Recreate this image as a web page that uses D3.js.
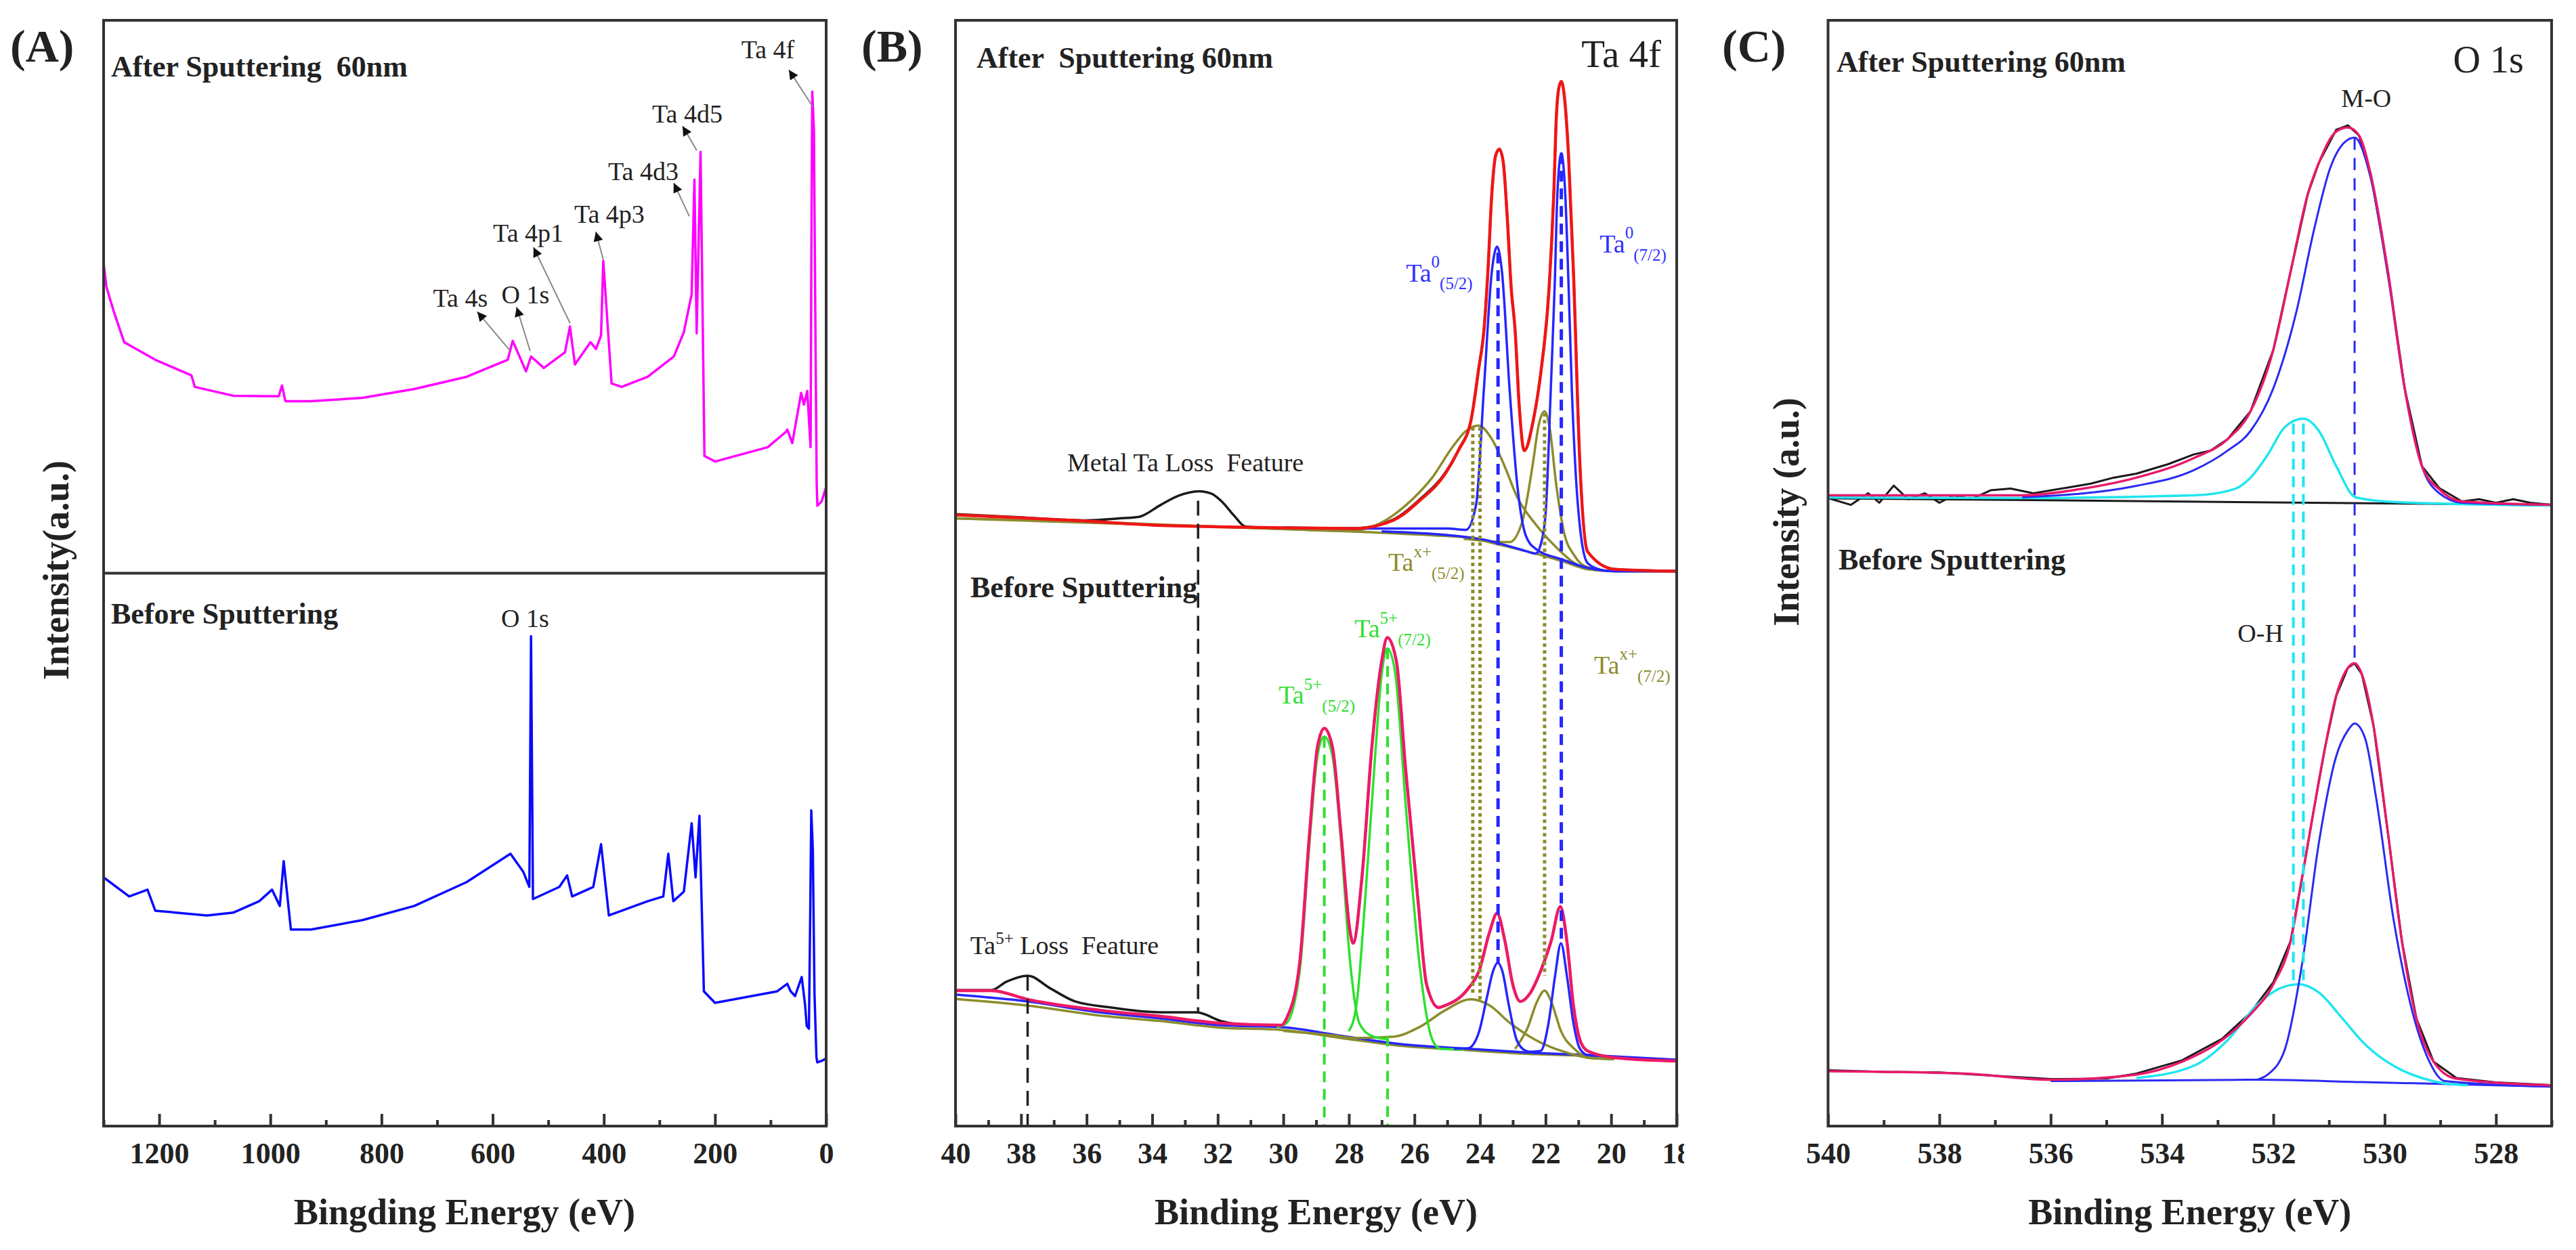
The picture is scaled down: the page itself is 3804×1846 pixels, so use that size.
<!DOCTYPE html>
<html>
<head>
<meta charset="utf-8">
<script src="https://cdn.jsdelivr.net/npm/d3@7"></script>
<style>
  body { margin: 0; background: #fff; }
  text { font-family: "Liberation Serif", "Times New Roman", serif; }
</style>
</head>
<body>
<div id="chart"></div>
<script>
// ---------- data (binding energy eV, intensity a.u.) ----------

// (A) survey spectra
var surveyAfter = [
  [1300, 780.6], [1295, 759.1], [1282, 737.1], [1263, 708.9], [1207, 693], [1142, 678.9], [1136, 668.5],
  [1067, 660.5], [985, 660], [979, 669.7], [973, 655.6], [927, 655.6], [834, 658.6], [741, 666.6],
  [647, 677.6], [573, 693], [564, 710.1], [540, 682.5], [531, 696], [508, 685.6], [470, 699.7],
  [461, 723], [452, 688.7], [424, 708.9], [414, 702.8], [405, 715], [401, 782.4], [386, 671.5],
  [368, 668.5], [321, 677.6], [274, 696], [256, 718], [242, 752.4], [237, 856], [233, 716.9],
  [226, 881], [219, 606], [200, 601], [105, 614], [72, 628], [70, 630], [61, 617.6], [45, 663],
  [40, 652.5], [34, 664.8], [28, 614], [26.5, 800], [25, 935.6], [22, 900], [19, 700], [17, 580],
  [15.8, 561], [8, 565], [0, 578]
];
var surveyBefore = [
  [1300, 224.9], [1254, 207.7], [1221, 213.8], [1207, 194.8], [1114, 190.5], [1067, 193], [1020, 203.4],
  [997, 213.8], [983, 199.1], [976, 239.6], [963, 177.7], [927, 177.7], [834, 186.3], [741, 199.1],
  [647, 220.6], [568, 246.3], [545, 230], [534, 216.3], [531, 443], [527.5, 205.3], [480, 216.3],
  [466, 226.7], [457, 207.7], [419, 216.3], [405, 254.9], [391, 190.5], [321, 203.4], [293, 207.7],
  [284, 246.3], [275, 203.4], [256, 212], [242, 273.9], [235, 224.9], [228, 280.6], [220, 121.9],
  [200, 111.5], [88, 121.9], [70, 128.7], [64, 122], [56, 117.6], [44, 134.8], [38, 110], [35, 90.7],
  [31, 88], [28.5, 200], [26.8, 285.5], [24, 250], [21, 120], [17.5, 62], [15.8, 57.6], [8, 59], [0, 61.3]
];
// peak labels: label centre, arrow tip, arrow tail
var surveyPeaksAfter = [
  { name: "Ta 4s",  e: 658,   v: 748.7, tipE: 627.7, tipV: 736.5, tailE: 569.2, tailV: 701.5 },
  { name: "O 1s",   e: 541,   v: 751.8, tipE: 557,   tipV: 740.7, tailE: 532.6, tailV: 700.9 },
  { name: "Ta 4p1", e: 536,   v: 807.5, tipE: 526.5, tipV: 794.7, tailE: 460.7, tailV: 726 },
  { name: "Ta 4p3", e: 390,   v: 824.7, tipE: 414.4, tipV: 808.8, tailE: 401,   tailV: 783.6 },
  { name: "Ta 4d3", e: 329,   v: 863.3, tipE: 274.2, tipV: 852.9, tailE: 246.2, tailV: 822.8 },
  { name: "Ta 4d5", e: 249.8, v: 915.4, tipE: 258.4, tipV: 904.3, tailE: 232.8, tailV: 882.3 },
  { name: "Ta 4f",  e: 104.8, v: 973.6, tipE: 67,    tipV: 955.2, tailE: 24.4,  tailV: 922.1 }
];
var surveyPeaksBefore = [{ name: "O 1s", e: 541.8, v: 459.5 }];
var ticksA = [1200, 1000, 800, 600, 400, 200, 0];

// (B) Ta 4f, after sputtering
var taAfterRaw = [
  [40, 553.5], [38, 550.5], [36, 547.8], [35, 549.6], [34.4, 551], [33.74, 561.8], [33.2, 570], [32.58, 574.1],
  [32.2, 572], [31.88, 564.9], [31.5, 552], [31.16, 542.2], [30.2, 540.6], [28.5, 540.8], [27.83, 540.6],
  [26.65, 548.5], [25.85, 566.5], [25.06, 591], [24.66, 611.5], [24.27, 639], [24.04, 685], [23.88, 719.9],
  [23.76, 772.6], [23.64, 843], [23.52, 878], [23.41, 883.5], [23.29, 871.3], [23.17, 822.2], [23.05, 758.5],
  [22.93, 719.9], [22.8, 649.5], [22.65, 610.9], [22.37, 639], [22.13, 685], [21.9, 754.8], [21.75, 843],
  [21.67, 913.5], [21.6, 938], [21.52, 944.8], [21.44, 934.4], [21.3, 878], [21.15, 772.6], [20.95, 596.8],
  [20.72, 519.6], [19.9, 503.6], [18, 501.8]
];
var taAfterEnv = [
  [40, 552.7], [38, 550], [36, 547.1], [34, 543.5], [32, 542], [30, 541], [28.5, 540.6], [27.83, 540.4],
  [26.65, 547.8], [25.85, 565.5], [25.06, 590], [24.66, 610.9], [24.27, 639], [24.04, 685], [23.88, 719.9],
  [23.76, 772.6], [23.64, 843], [23.52, 878], [23.41, 883.5], [23.29, 871.3], [23.17, 822.2], [23.05, 758.5],
  [22.93, 719.9], [22.8, 649.5], [22.65, 610.9], [22.37, 639], [22.13, 685], [21.9, 754.8], [21.75, 843],
  [21.67, 913.5], [21.6, 938], [21.52, 944.8], [21.44, 934.4], [21.3, 878], [21.15, 772.6], [20.95, 596.8],
  [20.72, 519.6], [19.9, 503.6], [18, 501.8]
];
var taAfterBg = [
  [40, 549.6], [36, 546.5], [33.7, 544], [30, 540], [27.6, 537.3], [25.46, 534.3], [24.27, 531.8],
  [23.48, 526.3], [22.3, 517.7], [21.5, 511], [20.72, 503.6], [19.9, 501.8], [18, 501.8]
];
var ta0_52After = [
  [30, 541.5], [27.8, 540.4], [25, 540.4], [24.43, 539.2], [24.12, 561.8], [23.88, 667.2], [23.64, 772.6],
  [23.48, 795.3], [23.33, 772.6], [23.1, 667.2], [22.86, 579], [22.6, 533.7], [22.3, 522], [21.5, 512.5],
  [20.72, 504.8], [19.9, 501.8], [18, 501.8]
];
var ta0_72After = [
  [27, 537.8], [24, 531], [22.6, 520], [22.3, 517.7], [22.15, 525.7], [22.0, 553.3], [21.84, 667.2],
  [21.72, 761.6], [21.64, 843], [21.52, 879.8], [21.4, 843], [21.3, 761.6], [21.2, 667.2], [21.08, 590],
  [20.96, 544.1], [20.72, 509.2], [20.3, 503], [19.9, 501.8], [18, 501.8]
];
var taX_52After = [
  [40, 549.6], [30, 540], [28.5, 538.5], [27.83, 538.6], [27.0, 545.9], [26.25, 561.8], [25.46, 586.4],
  [24.83, 614.5], [24.43, 628.6], [24.04, 633.5], [23.64, 621.3], [23.25, 596.8], [22.86, 568.6],
  [22.3, 544.1], [21.67, 523.3], [21.12, 509.2], [20.72, 503.6], [19.9, 501.8], [18, 501.8]
];
var taX_72After = [
  [24.5, 531], [23.1, 528.1], [22.7, 547.8], [22.4, 596.8], [22.2, 635.4], [22.03, 646.4], [21.88, 632.3],
  [21.67, 579], [21.44, 537.3], [21.12, 515.9], [20.72, 505.4], [19.9, 501.8], [18, 501.8]
];

// (B) Ta 4f, before sputtering
var taBeforeRaw = [
  [40, 123], [38.9, 123], [38.45, 130.5], [37.8, 136], [37.1, 124.4], [36.35, 112.7], [35.25, 107.2],
  [33.75, 102.9], [32.65, 102.9], [31.9, 95], [30.98, 91.3], [30.06, 91.3], [29.9, 97.4], [29.5, 147.7],
  [29.2, 264.7], [28.96, 342.5], [28.75, 359.7], [28.5, 342.5], [28.24, 264.7], [27.96, 175.2], [27.87, 165.4],
  [27.6, 225.5], [27.3, 342.5], [27.0, 420.3], [26.83, 441.8], [26.55, 420.3], [26.27, 322.9], [25.9, 206.5],
  [25.63, 128.1], [25.26, 107.2], [25.06, 109.1], [24.36, 124.4], [24.03, 140.3], [23.71, 175.2],
  [23.48, 192.4], [23.24, 167.3], [23.0, 128.1], [22.77, 112.7], [22.46, 120.7], [22.15, 140.3],
  [21.83, 167.3], [21.55, 198.5], [21.35, 167.3], [21.15, 109.1], [20.95, 77.8], [20.72, 68], [19.9, 61.9], [18, 58.8]
];
var taBeforeEnv = [
  [40, 122.5], [38.9, 122.5], [37.8, 114.6], [35.6, 104.8], [33.75, 99.3], [31.9, 93.1], [30.06, 91.3],
  [29.9, 97.4], [29.5, 147.7], [29.2, 264.7], [28.96, 342.5], [28.75, 359.7], [28.5, 342.5], [28.24, 264.7],
  [27.96, 175.2], [27.87, 165.4], [27.6, 225.5], [27.3, 342.5], [27.0, 420.3], [26.83, 441.8], [26.55, 420.3],
  [26.27, 322.9], [25.9, 206.5], [25.63, 128.1], [25.26, 107.2], [25.06, 109.1], [24.36, 124.4], [24.03, 140.3],
  [23.71, 175.2], [23.48, 192.4], [23.24, 167.3], [23.0, 128.1], [22.77, 112.7], [22.46, 120.7], [22.15, 140.3],
  [21.83, 167.3], [21.55, 198.5], [21.35, 167.3], [21.15, 109.1], [20.95, 77.8], [20.72, 68], [19.9, 61.9], [18, 58.8]
];
var taBeforeBg = [
  [40, 118.9], [37.8, 112.7], [35.6, 102.9], [33.75, 97.4], [31.9, 91.3], [30.06, 89.5], [28.2, 81.5],
  [26.4, 74.1], [24.28, 69.8], [22.3, 66.2], [20.72, 64.3], [18, 60]
];
var taBeforeBg2 = [
  [40, 115], [37.8, 109], [35.6, 100], [33.75, 95], [31.9, 89], [30.06, 87], [28.2, 79.5],
  [26.4, 72.5], [24.28, 68.5], [22.3, 65], [20.72, 63.5], [18, 59.5]
];
var ta5_52Before = [
  [30.2, 89.5], [29.9, 93.1], [29.5, 140.3], [29.2, 256.7], [28.96, 334.5], [28.75, 352.3], [28.5, 334.5],
  [28.24, 256.7], [27.96, 147.7], [27.68, 93.1], [27.3, 81.5], [26.8, 78.4]
];
var ta5_72Before = [
  [28.0, 85.8], [27.77, 109.1], [27.5, 206.5], [27.2, 334.5], [27.0, 408.7], [26.83, 432], [26.6, 412.3],
  [26.25, 284.3], [25.85, 147.7], [25.45, 77.8], [25.2, 69.8], [24.5, 69.2]
];
var ta0_52Before = [
  [24.8, 70], [24.36, 70.5], [24.03, 85.2], [23.79, 116.4], [23.6, 140.3], [23.46, 147.7], [23.32, 140.3],
  [23.12, 109.1], [22.88, 77.8], [22.6, 68], [22.3, 66.2]
];
var ta0_72Before = [
  [22.6, 67], [22.15, 68], [21.91, 93.1], [21.71, 136], [21.53, 165.4], [21.35, 136], [21.15, 93.1],
  [20.95, 69.8], [20.72, 64.3], [20, 63]
];
var taX_52Before = [
  [30, 86], [28.5, 82], [27.83, 79.7], [26.65, 80.9], [25.85, 89.5], [25.06, 104.8], [24.28, 114.6],
  [23.71, 109.1], [23.08, 93.1], [22.3, 77.8], [21.52, 68], [20.72, 61.9], [19.9, 60.5]
];
var taX_72Before = [
  [22.93, 69.8], [22.54, 89.5], [22.26, 112.7], [22.03, 122.5], [21.83, 112.7], [21.52, 85.2],
  [21.12, 69.8], [20.72, 61.9], [20, 60.5]
];
// vertical guides: [energy, from, to]
var lossLinesB = [[32.6, 565.5, 102.9], [37.8, 136, 0]];
var ta5LinesB = [[28.75, 352, 0], [26.82, 432, 0]];
var ta0LinesB = [[23.45, 790, 147.7], [21.52, 879.8, 165.4]];
var taXLinesB = [[24.22, 632, 120.7], [24.0, 632, 114], [22.03, 644.6, 136]];
var ta0LabelsB = [{ sup: "0", sub: "(5/2)", e: 26.26, v: 772 }, { sup: "0", sub: "(7/2)", e: 20.35, v: 798 }];
var taXLabelsB = [{ sup: "x+", sub: "(5/2)", e: 26.8, v: 510 }, { sup: "x+", sub: "(7/2)", e: 20.52, v: 417 }];
var ta5LabelsB = [{ sup: "5+", sub: "(5/2)", e: 30.14, v: 390 }, { sup: "5+", sub: "(7/2)", e: 27.83, v: 450 }];
var ticksB = [40, 38, 36, 34, 32, 30, 28, 26, 24, 22, 20, 18];

// (C) O 1s
var oAfterRaw = [
  [540, 568], [539.59, 561.8], [539.28, 572.3], [539.08, 563.7], [538.82, 579.2], [538.56, 566.9],
  [538.26, 572.3], [538.0, 563.7], [537.74, 570.4], [537.43, 566.9], [537.08, 575], [536.72, 576.6],
  [536.31, 572.3], [535.69, 577.5], [535.28, 581], [534.87, 586.4], [534.46, 590], [533.89, 598.6],
  [533.43, 607.4], [533.13, 610.9], [532.82, 621.3], [532.41, 646.4], [532.0, 702.1], [531.69, 772.6],
  [531.38, 843], [531.18, 871.3], [530.87, 901], [530.66, 905], [530.46, 895.8], [530.25, 860.8],
  [529.94, 772.6], [529.64, 667.2], [529.33, 596.8], [529.02, 577], [528.61, 564.9], [528.3, 566.9],
  [528.0, 563.7], [527.69, 566.9], [527.38, 563.7], [527, 561.8]
];
var oAfterEnv = [
  [540, 570.4], [536.51, 570.4], [535.49, 575.9], [534.46, 586.4], [533.43, 604.1], [532.82, 621.3],
  [532.41, 646.4], [532.0, 702.1], [531.69, 772.6], [531.38, 843], [531.18, 871.3], [530.87, 899.4],
  [530.66, 903.1], [530.46, 895.8], [530.25, 860.8], [529.94, 772.6], [529.64, 667.2], [529.33, 596.8],
  [529.02, 575.9], [528.61, 564.9], [527, 561.8]
];
var oAfterBg = [[540, 567.7], [527, 561.8]];
var moAfter = [
  [536.51, 568.6], [534.46, 579], [533.43, 593.1], [532.82, 610.9], [532.41, 628.6], [532.0, 667.2],
  [531.58, 737.7], [531.28, 808.1], [530.97, 867.6], [530.71, 890.2], [530.54, 893.9], [530.25, 857.2],
  [529.94, 768.9], [529.64, 667.2], [529.33, 596.8], [529.02, 572.3], [528.61, 563.7], [527, 561.8]
];
var ohAfter = [
  [540, 568.5], [536.51, 568], [533.43, 570.4], [532.71, 575.9], [532.41, 586.4], [532.1, 607.2],
  [531.79, 632.3], [531.46, 639.7], [531.18, 628.6], [530.87, 596.8], [530.52, 568.6], [529.8, 564.3], [527, 561.2]
];
var oBeforeRaw = [
  [540, 50.5], [539, 49], [538, 48.5], [537, 45.5], [536, 42.5], [535, 43], [534.46, 47.5], [533.64, 59.5],
  [532.92, 79], [532.41, 102.5], [532.0, 130], [531.69, 167.3], [531.48, 225.7], [531.28, 284], [531.07, 342.5],
  [530.87, 389.1], [530.66, 414.4], [530.54, 418.5], [530.41, 408.7], [530.2, 362.1], [529.94, 264.7],
  [529.69, 167.3], [529.43, 97.4], [529.12, 58.2], [528.71, 43.5], [528, 39.5], [527, 37]
];
var oBeforeEnv = [
  [540, 49.6], [537.54, 47.4], [536, 41.9], [534.46, 46.6], [533.64, 58.2], [532.92, 77.8], [532.41, 101.1],
  [532.0, 128.3], [531.69, 167.3], [531.48, 225.7], [531.28, 284], [531.07, 342.5], [530.87, 389.1],
  [530.66, 414.4], [530.54, 418.5], [530.41, 408.7], [530.2, 362.1], [529.94, 264.7], [529.69, 167.3],
  [529.43, 97.4], [529.12, 58.2], [528.71, 42.9], [527, 36.8]
];
var oBeforeBg = [[536, 40.7], [532.3, 41.9], [530.4, 39.8], [527, 35.7]];
var moBefore = [
  [532.3, 41.9], [532.1, 46.6], [531.79, 69.8], [531.48, 147.7], [531.18, 256.7], [530.87, 334.5],
  [530.66, 357.8], [530.54, 364], [530.35, 350.5], [530.15, 296], [529.84, 186.9], [529.53, 109.1],
  [529.23, 62.1], [528.92, 40.7], [527, 35.7]
];
var ohBefore = [
  [534.46, 43.5], [533.43, 54.5], [532.82, 77.8], [532.3, 109.1], [531.89, 124.4], [531.54, 128.3],
  [531.18, 120.7], [530.76, 97.4], [530.35, 73.8], [529.84, 54.5], [529.33, 43.5], [528.92, 38.6], [528.5, 37]
];
var moLinesC = [[530.54, 893.9, 418.5]];
var ohLinesC = [[531.64, 635.4, 128.3], [531.46, 635.4, 128.3]];
var ticksC = [540, 538, 536, 534, 532, 530, 528];

// ---------- layout ----------
var svgWidth = 3804, svgHeight = 1846;
var plotTop = 30, plotBottom = 1663;
var axisColor = "#333";

var svg = d3.select("#chart").append("svg")
  .attr("width", svgWidth)
  .attr("height", svgHeight)
  .style("background", "#fff");

svg.append("rect").attr("width", svgWidth).attr("height", svgHeight).attr("fill", "#fff");

function makePanel(x0, x1, domain, majors, minorStep) {
  var x = d3.scaleLinear().domain(domain).range([x0, x1]);
  var y = d3.scaleLinear().domain([0, 1000]).range([plotBottom, plotTop]);
  var lo = Math.min(domain[0], domain[1]), hi = Math.max(domain[0], domain[1]);
  var minors = d3.range(Math.ceil(lo / minorStep) * minorStep, hi + 1e-9, minorStep)
    .filter(function(d) { return majors.indexOf(d) < 0; });

  var gMinor = svg.append("g").attr("transform", "translate(0," + plotBottom + ")")
    .call(d3.axisBottom(x).tickValues(minors).tickSize(-9).tickFormat(""));
  var gMajor = svg.append("g").attr("transform", "translate(0," + plotBottom + ")")
    .call(d3.axisBottom(x).tickValues(majors).tickSize(-18).tickPadding(24).tickFormat(d3.format("d")));

  [gMinor, gMajor].forEach(function(g) {
    g.select(".domain").remove();
    g.selectAll(".tick line").attr("stroke", axisColor).attr("stroke-width", 4);
  });
  gMajor.selectAll(".tick text")
    .attr("fill", "#222")
    .style("font-family", "'Liberation Serif', serif")
    .style("font-weight", "bold")
    .style("font-size", "44px");
  return { x: x, y: y, x0: x0, x1: x1 };
}

function frame(p) {
  svg.append("rect")
    .attr("x", p.x0).attr("y", plotTop)
    .attr("width", p.x1 - p.x0).attr("height", plotBottom - plotTop)
    .attr("fill", "none").attr("stroke", axisColor).attr("stroke-width", 4);
}

function curve(p, data, color, width, smooth) {
  svg.append("path").datum(data)
    .attr("fill", "none")
    .attr("stroke", color)
    .attr("stroke-width", width)
    .attr("stroke-linejoin", "round")
    .attr("d", d3.line()
      .x(function(d) { return p.x(d[0]); })
      .y(function(d) { return p.y(d[1]); })
      .curve(smooth ? d3.curveMonotoneX : d3.curveLinear));
}

function guides(p, lines, color, width, dash) {
  svg.selectAll(null).data(lines).enter().append("line")
    .attr("x1", function(d) { return p.x(d[0]); })
    .attr("x2", function(d) { return p.x(d[0]); })
    .attr("y1", function(d) { return p.y(d[1]); })
    .attr("y2", function(d) { return p.y(d[2]); })
    .attr("stroke", color)
    .attr("stroke-width", width)
    .attr("stroke-dasharray", dash);
}

function text(x, y, str, size, opts) {
  opts = opts || {};
  return svg.append("text")
    .attr("x", x).attr("y", y)
    .attr("fill", opts.color || "#222")
    .attr("text-anchor", opts.anchor || "start")
    .style("font-size", size + "px")
    .style("font-weight", opts.bold ? "bold" : "normal")
    .style("white-space", "pre")
    .text(str);
}

// "Ta" with superscript and subscript, y = visual centre of "Ta"
function taLabel(p, d, color) {
  var size = 38, small = 25;
  var t = svg.append("text")
    .attr("x", p.x(d.e)).attr("y", p.y(d.v) + 0.35 * size)
    .attr("fill", color)
    .style("font-size", size + "px");
  t.append("tspan").text("Ta");
  t.append("tspan").attr("dy", -0.55 * size).style("font-size", small + "px").text(d.sup);
  t.append("tspan").attr("dy", 0.85 * size).style("font-size", small + "px").text(d.sub);
}

// ---------- (A) survey ----------
var pA = makePanel(153, 1220, [1300, 0], ticksA, 100);
curve(pA, surveyAfter, "#ff00ff", 3.5, false);
curve(pA, surveyBefore, "#0a0aff", 3.5, false);

svg.append("defs").append("marker")
  .attr("id", "arrowHead")
  .attr("viewBox", "0 0 10 10")
  .attr("refX", 10).attr("refY", 5)
  .attr("markerUnits", "userSpaceOnUse")
  .attr("markerWidth", 28).attr("markerHeight", 14)
  .attr("orient", "auto")
  .append("path").attr("d", "M0,0 L10,5 L0,10 z").attr("fill", "#111");

svg.selectAll(null).data(surveyPeaksAfter).enter().append("line")
  .attr("x1", function(d) { return pA.x(d.tailE); })
  .attr("y1", function(d) { return pA.y(d.tailV); })
  .attr("x2", function(d) { return pA.x(d.tipE); })
  .attr("y2", function(d) { return pA.y(d.tipV); })
  .attr("stroke", "#8a8a8a").attr("stroke-width", 2)
  .attr("marker-end", "url(#arrowHead)");

surveyPeaksAfter.concat(surveyPeaksBefore).forEach(function(d) {
  text(pA.x(d.e), pA.y(d.v) + 13, d.name, 38, { anchor: "middle" });
});

frame(pA);
svg.append("line")
  .attr("x1", pA.x0).attr("x2", pA.x1)
  .attr("y1", pA.y(500)).attr("y2", pA.y(500))
  .attr("stroke", axisColor).attr("stroke-width", 4);

text(164, 113, "After Sputtering  60nm", 44, { bold: true });
text(164, 921, "Before Sputtering", 44, { bold: true });
text(15, 91, "(A)", 68, { bold: true });
text(686, 1808, "Bingding Energy (eV)", 54, { bold: true, anchor: "middle" });
text(0, 0, "Intensity(a.u.)", 54, { bold: true, anchor: "middle" })
  .attr("transform", "translate(101,842) rotate(-90)");

// ---------- (B) Ta 4f ----------
var pB = makePanel(1411, 2476, [40, 18], ticksB, 1);

var olive = "#8c8c2c", green = "#2ee02e", blueB = "#2626ff";
// after sputtering
curve(pB, taAfterRaw, "#1a1a1a", 3.5, true);
curve(pB, taAfterBg, olive, 3.5, true);
curve(pB, taX_52After, olive, 3.5, true);
curve(pB, taX_72After, olive, 3.5, true);
curve(pB, ta0_52After, blueB, 3.5, true);
curve(pB, ta0_72After, blueB, 3.5, true);
curve(pB, taAfterEnv, "#f01616", 4.5, true);
// before sputtering
curve(pB, taBeforeRaw, "#1a1a1a", 3.5, true);
curve(pB, taBeforeBg2, olive, 3.5, true);
curve(pB, taBeforeBg, blueB, 3.5, true);
curve(pB, taX_52Before, olive, 3.5, true);
curve(pB, taX_72Before, olive, 3.5, true);
curve(pB, ta5_52Before, green, 3.5, true);
curve(pB, ta5_72Before, green, 3.5, true);
curve(pB, ta0_52Before, blueB, 3.5, true);
curve(pB, ta0_72Before, blueB, 3.5, true);
curve(pB, taBeforeEnv, "#ee1a66", 4.5, true);

guides(pB, lossLinesB, "#222", 3.5, "22,12");
guides(pB, ta5LinesB, green, 4, "16,10");
guides(pB, ta0LinesB, blueB, 5, "16,10");
guides(pB, taXLinesB, olive, 5, "5,5");

frame(pB);

ta0LabelsB.forEach(function(d) { taLabel(pB, d, "#3030ff"); });
taXLabelsB.forEach(function(d) { taLabel(pB, d, olive); });
ta5LabelsB.forEach(function(d) { taLabel(pB, d, "#33dd33"); });

text(pB.x(36.59), pB.y(600.4) + 13, "Metal Ta Loss  Feature", 38);
var lossT = svg.append("text")
  .attr("x", pB.x(39.55)).attr("y", pB.y(163.6) + 13)
  .attr("fill", "#222").style("font-size", "38px").style("white-space", "pre");
lossT.append("tspan").text("Ta");
lossT.append("tspan").attr("dy", -15).style("font-size", "25px").text("5+");
lossT.append("tspan").attr("dy", 15).text(" Loss  Feature");

text(pB.x(20.91), pB.y(970) + 20, "Ta 4f", 57);
text(1442, 100, "After  Sputtering 60nm", 44, { bold: true });
text(1433, 882, "Before Sputtering", 44, { bold: true });
text(1272, 91, "(B)", 68, { bold: true });
text(1943.5, 1808, "Binding Energy (eV)", 54, { bold: true, anchor: "middle" });

// ---------- (C) O 1s ----------
svg.append("rect").attr("x", 2487).attr("y", 0)
  .attr("width", svgWidth - 2487).attr("height", svgHeight).attr("fill", "#fff");

var pC = makePanel(2699.5, 3768, [540, 527], ticksC, 1);
var pink = "#e8196a", blueC = "#2a2af2", cyan = "#1fe6f0";

curve(pC, oAfterRaw, "#1a1a1a", 3, false);
curve(pC, oAfterBg, "#1a1a1a", 3, false);
curve(pC, ohAfter, cyan, 3.5, true);
curve(pC, moAfter, blueC, 3, true);
curve(pC, oAfterEnv, pink, 3.5, true);

curve(pC, oBeforeRaw, "#1a1a1a", 3, false);
curve(pC, oBeforeBg, blueC, 3, true);
curve(pC, ohBefore, cyan, 3.5, true);
curve(pC, moBefore, blueC, 3, true);
curve(pC, oBeforeEnv, pink, 3.5, true);

guides(pC, ohLinesC, cyan, 4, "16,10");
guides(pC, moLinesC, blueC, 3, "18,12");

frame(pC);

text(pC.x(530.33), pC.y(929.5) + 13, "M-O", 38, { anchor: "middle" });
text(pC.x(532.23), pC.y(445.6) + 13, "O-H", 38, { anchor: "middle" });
text(pC.x(528.77), pC.y(964.4) + 19, "O 1s", 56);
text(2712, 106, "After Sputtering 60nm", 44, { bold: true });
text(2715, 841, "Before Sputtering", 44, { bold: true });
text(2543, 91, "(C)", 68, { bold: true });
text(3233.75, 1808, "Binding Energy (eV)", 54, { bold: true, anchor: "middle" });
text(0, 0, "Intensity (a.u.)", 54, { bold: true, anchor: "middle" })
  .attr("transform", "translate(2656,756) rotate(-90)");
</script>
</body>
</html>
